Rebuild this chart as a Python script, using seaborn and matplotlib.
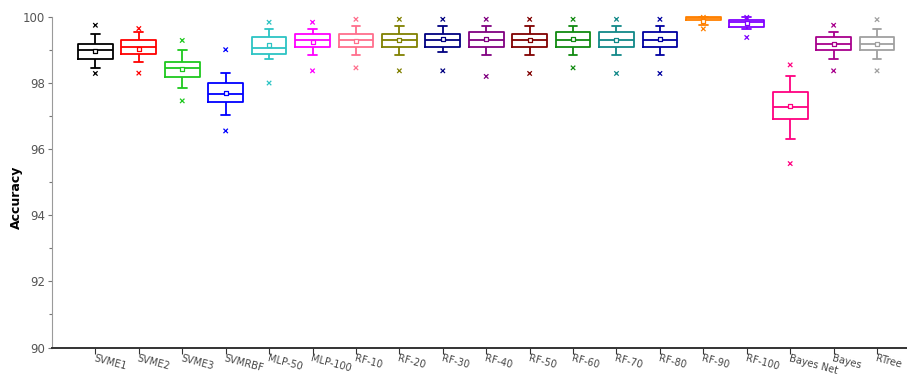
import numpy as np
import pandas as pd
import matplotlib
matplotlib.use("Agg")
import matplotlib.pyplot as plt
import seaborn as sns
from matplotlib.ticker import MultipleLocator

models = ["SVME1", "SVME2", "SVME3", "SVMRBF", "MLP-50", "MLP-100", "RF-10", "RF-20",
          "RF-30", "RF-40", "RF-50", "RF-60", "RF-70", "RF-80", "RF-90", "RF-100",
          "Bayes Net", "Bayes", "RTree"]
whisker_low = [98.47, 98.66, 97.85, 97.04, 98.75, 98.85, 98.85, 98.85, 98.95, 98.85,
               98.85, 98.85, 98.85, 98.85, 99.78, 99.65, 96.33, 98.75, 98.75]
q1 = [98.75, 98.90, 98.20, 97.45, 98.90, 99.10, 99.09, 99.09, 99.09, 99.09,
      99.09, 99.09, 99.09, 99.09, 99.91, 99.72, 96.91, 99.02, 99.00]
median = [99.02, 99.10, 98.48, 97.68, 99.08, 99.31, 99.31, 99.31, 99.31, 99.31,
          99.31, 99.31, 99.31, 99.31, 99.97, 99.85, 97.29, 99.20, 99.20]
q3 = [99.20, 99.30, 98.65, 98.01, 99.39, 99.48, 99.48, 99.48, 99.48, 99.56,
      99.48, 99.56, 99.56, 99.56, 100.0, 99.93, 97.75, 99.39, 99.39]
whisker_high = [99.48, 99.56, 99.01, 98.30, 99.64, 99.64, 99.74, 99.74, 99.74, 99.74,
                99.74, 99.74, 99.74, 99.74, 100.0, 100.0, 98.21, 99.57, 99.64]
mean = [98.97, 99.05, 98.44, 97.71, 99.17, 99.25, 99.28, 99.31, 99.34, 99.35,
        99.31, 99.33, 99.31, 99.35, 99.90, 99.82, 97.31, 99.20, 99.20]
min_val = [98.30, 98.31, 97.47, 96.56, 98.01, 98.38, 98.47, 98.38, 98.38, 98.21,
           98.30, 98.47, 98.30, 98.30, 99.65, 99.39, 95.57, 98.38, 98.38]
max_val = [99.76, 99.66, 99.30, 99.02, 99.85, 99.85, 99.94, 99.94, 99.94, 99.94,
           99.94, 99.94, 99.94, 99.94, 100.0, 100.0, 98.56, 99.76, 99.93]
colors = ["#000000", "#FF0000", "#1EC81E", "#0000FF", "#2CC4C4", "#FF00FF", "#FF6E8C",
          "#808000", "#000080", "#800080", "#800000", "#108A10", "#108888", "#0000A0",
          "#FF8000", "#8000FF", "#FF0080", "#A8008C", "#A0A0A0"]

# five summary values per model -> with whis=(0,100) the boxplot reproduces them exactly
box_df = pd.DataFrame({
    "model": np.repeat(models, 5),
    "acc": np.column_stack([whisker_low, q1, median, q3, whisker_high]).ravel(),
})
mean_df = pd.DataFrame({"model": models, "acc": mean})
ext_df = pd.DataFrame({"model": models + models, "acc": min_val + max_val})

sns.set_style("ticks")
plt.rcParams["font.family"] = ["DejaVu Sans"]

fig = plt.figure(figsize=(9.07, 3.75), dpi=100)
ax = fig.add_axes([0.0573, 0.0733, 0.9427, 0.8805])

sns.boxplot(data=box_df, x="model", y="acc", hue="model", palette=colors,
            order=models, hue_order=models, fill=False, whis=(0, 100),
            width=0.8, linewidth=1.3, showfliers=False, legend=False,
            capwidths=0.2, ax=ax)

n0 = len(ax.collections)
sns.stripplot(data=mean_df, x="model", y="acc", hue="model", palette=colors,
              order=models, hue_order=models, jitter=False, marker="s", size=3.2,
              linewidth=0.9, legend=False, ax=ax)
for c in ax.collections[n0:]:
    fc = c.get_facecolor()
    c.set_edgecolor(fc)
    c.set_facecolor("white")
    c.set_linewidth(0.9)
    c.set_clip_on(False)
    c.set_zorder(4)

n1 = len(ax.collections)
sns.stripplot(data=ext_df, x="model", y="acc", hue="model", palette=colors,
              order=models, hue_order=models, jitter=False, marker="x", size=3.2,
              linewidth=0.9, legend=False, ax=ax)
for c in ax.collections[n1:]:
    fc = c.get_facecolor()
    c.set_edgecolor(fc)
    c.set_linewidth(0.9)
    c.set_clip_on(False)
    c.set_zorder(4)

for ln in ax.lines:
    ln.set_clip_on(False)

ax.set_ylim(90, 100)
ax.set_xlim(-1, 18.69)
ax.yaxis.set_major_locator(MultipleLocator(2))
ax.yaxis.set_minor_locator(MultipleLocator(1))

for s in ["top", "right"]:
    ax.spines[s].set_visible(False)
ax.spines["left"].set_color("#9a9a9a")
ax.spines["left"].set_linewidth(0.8)
ax.spines["bottom"].set_color("#333333")
ax.spines["bottom"].set_linewidth(1.4)

ax.tick_params(axis="y", which="major", length=3, width=0.8, color="#777777",
               labelsize=8.5, labelcolor="#555555", pad=2)
ax.tick_params(axis="y", which="minor", length=2, width=0.8, color="#777777")
ax.tick_params(axis="x", which="major", length=4, width=0.8, color="#333333",
               labelsize=7, labelcolor="#444444", pad=0)

ax.set_xticks(range(len(models)))
ax.set_xticklabels(models, rotation=-15, ha="left", va="top", rotation_mode="anchor")
ax.set_xlabel("")
ax.set_ylabel("Accuracy", fontsize=9, fontweight="bold", color="black")
ax.yaxis.set_label_coords(-0.034, 0.456)

fig.savefig("out.png", dpi=100)
